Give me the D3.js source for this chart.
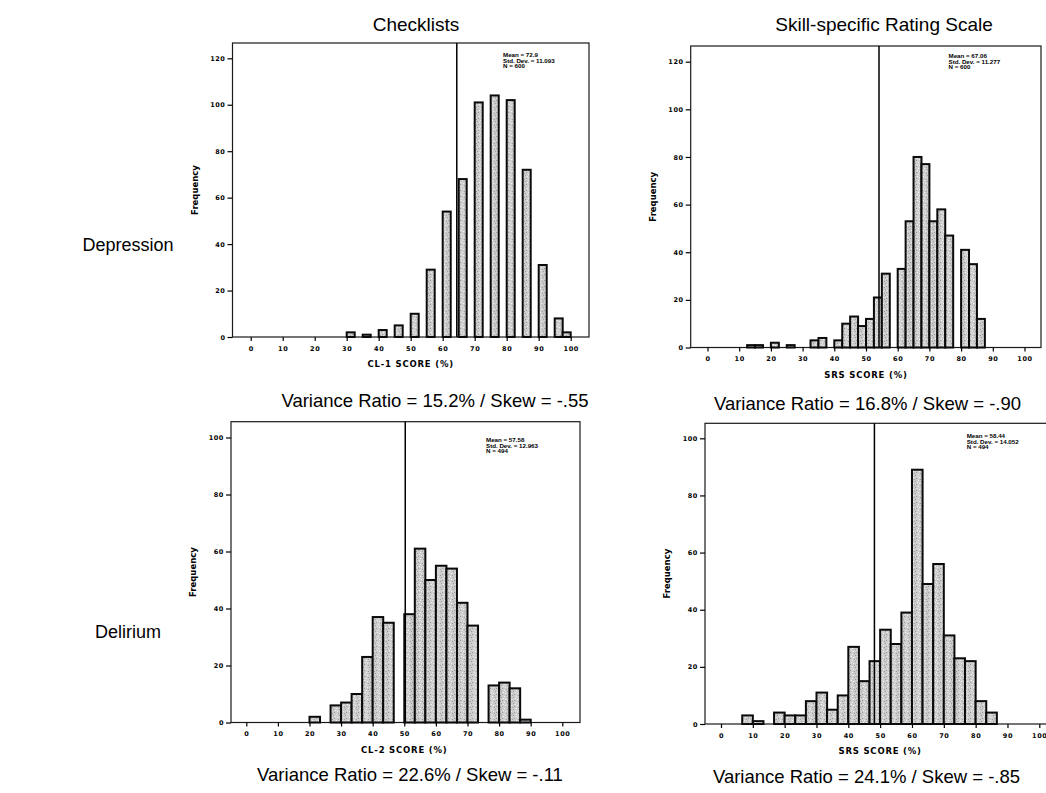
<!DOCTYPE html>
<html>
<head>
<meta charset="utf-8">
<script src="https://cdn.jsdelivr.net/npm/d3@7"></script>
<style>
  html, body { margin: 0; padding: 0; background: #fff; }
  svg { display: block; }
</style>
</head>
<body>
<svg id="chart" width="1046" height="793"></svg>
<script>
// ---------------- DATA ----------------
const colTitles = ["Checklists", "Skill-specific Rating Scale"];
const rowLabels = ["Depression", "Delirium"];
const xTickValues = [0, 10, 20, 30, 40, 50, 60, 70, 80, 90, 100];
const yTicksDepression = [0, 20, 40, 60, 80, 100, 120];
const yTicksDelirium = [0, 20, 40, 60, 80, 100];

// CL-1 (Depression, checklists) – bin starts and frequencies
const cl1BinStart = [30, 35, 40, 45, 50, 55, 60, 65, 70, 75, 80, 85, 90, 95, 97.5];
const cl1Count    = [2, 1, 3, 5, 10, 29, 54, 68, 101, 104, 102, 72, 31, 8, 2];
const cl1BinWidth = 2.5;

// SRS (Depression)
const srsDepBinStart = [12.5, 15, 20, 25, 32.5, 35, 40, 42.5, 45, 47.5, 50, 52.5, 55, 60, 62.5, 65, 67.5, 70, 72.5, 75, 80, 82.5, 85];
const srsDepCount    = [1, 1, 2, 1, 3, 4, 3, 10, 13, 9, 12, 21, 31, 33, 53, 80, 77, 53, 58, 47, 41, 35, 12];
const srsDepBinWidth = 2.5;

// CL-2 (Delirium, checklists)
const cl2BinStart = [20, 26.67, 30, 33.33, 36.67, 40, 43.33, 50, 53.33, 56.67, 60, 63.33, 66.67, 70, 76.67, 80, 83.33, 86.67];
const cl2Count    = [2, 6, 7, 10, 23, 37, 35, 38, 61, 50, 55, 54, 42, 34, 13, 14, 12, 1];
const cl2BinWidth = 3.333;

// SRS (Delirium)
const srsDelBinStart = [6.67, 10, 16.67, 20, 23.33, 26.67, 30, 33.33, 36.67, 40, 43.33, 46.67, 50, 53.33, 56.67, 60, 63.33, 66.67, 70, 73.33, 76.67, 80, 83.33];
const srsDelCount    = [3, 1, 4, 3, 3, 8, 11, 5, 10, 27, 15, 22, 33, 28, 39, 89, 49, 56, 31, 23, 22, 8, 4];
const srsDelBinWidth = 3.333;

// vertical reference line positions (score %)
const cutoffs = [64.4, 54.1, 50.3, 48.2];

const xAxisTitles = ["CL-1 SCORE (%)", "SRS SCORE (%)", "CL-2 SCORE (%)", "SRS SCORE (%)"];
const statMeans = ["Mean = 72.9", "Mean = 67.06", "Mean = 57.58", "Mean = 58.44"];
const statSDs   = ["Std. Dev. = 11.093", "Std. Dev. = 11.277", "Std. Dev. = 12.963", "Std. Dev. = 14.052"];
const statNs    = ["N = 600", "N = 600", "N = 494", "N = 494"];
const varianceLabels = [
  "Variance Ratio = 15.2% / Skew = -.55",
  "Variance Ratio = 16.8% / Skew = -.90",
  "Variance Ratio = 22.6% / Skew = -.11",
  "Variance Ratio = 24.1% / Skew = -.85"
];

// ---------------- LAYOUT ----------------
const panels = [
  { starts: cl1BinStart, counts: cl1Count, bw: cl1BinWidth, yTicks: yTicksDepression, yTop: 120,
    x0: 250.7, x100: 570.7, y0: 337, yTopPx: 58.3, fl: 232.5, fr: 589, ft: 43, statX: 503, statY: 57,
    varX: 435, varY: 407 },
  { starts: srsDepBinStart, counts: srsDepCount, bw: srsDepBinWidth, yTicks: yTicksDepression, yTop: 120,
    x0: 707.5, x100: 1024.5, y0: 347.5, yTopPx: 61.7, fl: 690.7, fr: 1041, ft: 46, statX: 948.5, statY: 58,
    varX: 867.5, varY: 410 },
  { starts: cl2BinStart, counts: cl2Count, bw: cl2BinWidth, yTicks: yTicksDelirium, yTop: 100,
    x0: 246.3, x100: 562.3, y0: 722.5, yTopPx: 437.5, fl: 231, fr: 580, ft: 421.7, statX: 486, statY: 442,
    varX: 410, varY: 781 },
  { starts: srsDelBinStart, counts: srsDelCount, bw: srsDelBinWidth, yTicks: yTicksDelirium, yTop: 100,
    x0: 721, x100: 1039.3, y0: 724, yTopPx: 438.3, fl: 705, fr: 1052, ft: 423.3, statX: 966.7, statY: 438,
    varX: 866.5, varY: 783 }
];

const svg = d3.select("#chart");
const defs = svg.append("defs");
const pat = defs.append("pattern").attr("id", "stipple")
  .attr("patternUnits", "userSpaceOnUse").attr("width", 6).attr("height", 6);
pat.append("rect").attr("width", 6).attr("height", 6).attr("fill", "#cdcdcd");
[[0,0],[3,1],[1,3],[4,4],[5,2],[2,5]].forEach(([a,b], i) => {
  pat.append("rect").attr("x", a).attr("y", b).attr("width", 1).attr("height", 1)
     .attr("fill", i % 2 ? "#9a9a9a" : "#efefef");
});

const mainFont = "Liberation Sans, Arial, Helvetica, sans-serif";
const smallFont = "DejaVu Sans, Verdana, sans-serif";

// column titles
const titleX = [416, 884];
colTitles.forEach((t, i) => {
  svg.append("text").attr("x", titleX[i]).attr("y", 31)
    .attr("text-anchor", "middle").attr("font-family", mainFont).attr("font-size", 19)
    .attr("fill", "#000").text(t);
});
// row labels
const rowY = [251, 638];
rowLabels.forEach((t, i) => {
  svg.append("text").attr("x", 128).attr("y", rowY[i])
    .attr("text-anchor", "middle").attr("font-family", mainFont).attr("font-size", 18)
    .attr("fill", "#000").text(t);
});

panels.forEach((p, pi) => {
  const x = d3.scaleLinear().domain([0, 100]).range([p.x0, p.x100]);
  const y = d3.scaleLinear().domain([0, p.yTop]).range([p.y0, p.yTopPx]);
  const g = svg.append("g");

  // frame
  g.append("rect").attr("x", p.fl).attr("y", p.ft)
    .attr("width", p.fr - p.fl).attr("height", p.y0 - p.ft)
    .attr("fill", "none").attr("stroke", "#1a1a1a").attr("stroke-width", 1.2);

  // bars
  const bins = p.starts.map((s, i) => ({ s: s, c: p.counts[i] }));
  g.selectAll("rect.bar").data(bins).enter().append("rect")
    .attr("class", "bar")
    .attr("x", d => x(d.s))
    .attr("y", d => y(d.c))
    .attr("width", d => x(d.s + p.bw) - x(d.s))
    .attr("height", d => y(0) - y(d.c))
    .attr("fill", "url(#stipple)")
    .attr("stroke", "#0a0a0a").attr("stroke-width", 2);

  // cut line
  g.append("line").attr("x1", x(cutoffs[pi])).attr("x2", x(cutoffs[pi]))
    .attr("y1", p.ft).attr("y2", p.y0)
    .attr("stroke", "#000").attr("stroke-width", 1.5);

  // y axis
  const yAxis = d3.axisLeft(y).tickValues(p.yTicks).tickSize(5).tickPadding(2).tickFormat(d3.format("d"));
  const ya = g.append("g").attr("transform", `translate(${p.fl},0)`).call(yAxis);
  ya.select(".domain").remove();
  ya.selectAll("line").attr("stroke", "#000").attr("stroke-width", 1.2);
  ya.selectAll("text").attr("font-family", smallFont).attr("font-weight", "bold")
    .attr("font-size", 6.5).attr("letter-spacing", "0.6px").attr("fill", "#000");

  // x axis
  const xAxis = d3.axisBottom(x).tickValues(xTickValues).tickSize(4).tickPadding(5).tickFormat(d3.format("d"));
  const xa = g.append("g").attr("transform", `translate(0,${p.y0})`).call(xAxis);
  xa.select(".domain").remove();
  xa.selectAll("line").attr("stroke", "#000").attr("stroke-width", 1.2);
  xa.selectAll("text").attr("font-family", smallFont).attr("font-weight", "bold")
    .attr("font-size", 6.5).attr("letter-spacing", "0.6px").attr("fill", "#000");

  // axis titles
  g.append("text").attr("x", x(50)).attr("y", p.y0 + 30)
    .attr("text-anchor", "middle").attr("font-family", smallFont).attr("font-weight", "bold")
    .attr("font-size", 8.5).attr("letter-spacing", "0.8px").attr("fill", "#000").text(xAxisTitles[pi]);
  const fy = (p.ft + p.y0) / 2;
  g.append("text").attr("transform", `translate(${p.fl - 35},${fy}) rotate(-90)`)
    .attr("text-anchor", "middle").attr("font-family", smallFont).attr("font-weight", "bold")
    .attr("font-size", 8.5).attr("fill", "#000").text("Frequency");

  // stats box
  [statMeans[pi], statSDs[pi], statNs[pi]].forEach((t, k) => {
    g.append("text").attr("x", p.statX).attr("y", p.statY + k * 5.6)
      .attr("font-family", mainFont).attr("font-weight", "bold")
      .attr("font-size", 6.2).attr("fill", "#000").text(t);
  });

  // variance label
  svg.append("text").attr("x", p.varX).attr("y", p.varY)
    .attr("text-anchor", "middle").attr("font-family", mainFont).attr("font-size", 18.5)
    .attr("fill", "#000").text(varianceLabels[pi]);
});
</script>
</body>
</html>
